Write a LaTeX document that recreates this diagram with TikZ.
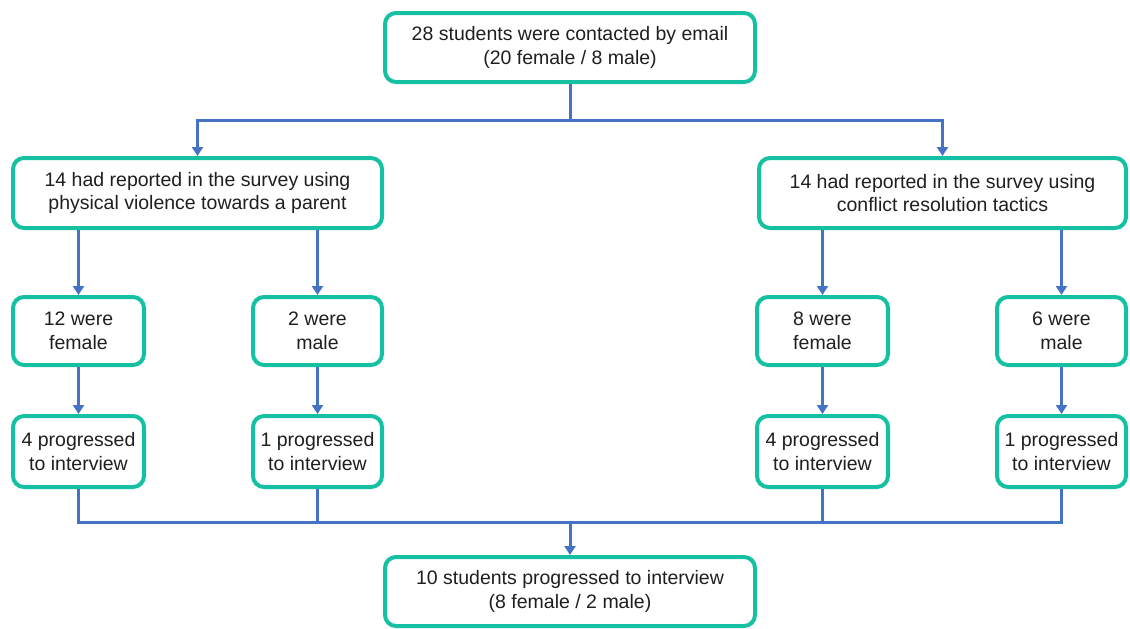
\documentclass[tikz,border=0pt]{standalone}
\usepackage{fontspec}
\setmainfont{Liberation Sans}
\usetikzlibrary{arrows.meta}
\definecolor{tealbox}{RGB}{22,192,163}
\definecolor{linkblue}{RGB}{68,114,196}
\tikzset{
  box/.style={draw=tealbox, line width=4pt, rounded corners=11pt, fill=white,
    align=center, inner sep=0pt, text=black!88,
    font=\fontsize{19.5}{23.5}\selectfont},
  conn/.style={draw=linkblue, line width=3pt},
  arr/.style={conn, -{Triangle[width=11pt,length=9pt]}},
}
\begin{document}
\begin{tikzpicture}[x=1pt,y=-1pt]
\useasboundingbox (0,0) rectangle (1130,629);
\node[box, minimum width=370pt, minimum height=69pt] (top) at (570,47.5)
  {28 students were contacted by email\\(20 female / 8 male)};
\node[box, minimum width=369pt, minimum height=70pt] (L) at (197.5,193)
  {14 had reported in the survey using\\physical violence towards a parent};
\node[box, minimum width=367pt, minimum height=70pt] (R) at (942.5,193)
  {14 had reported in the survey using\\conflict resolution tactics};
\node[box, minimum width=131pt, minimum height=68pt] (LF) at (78.5,331) {12 were\\female};
\node[box, minimum width=129pt, minimum height=68pt] (LM) at (317.5,331) {2 were\\male};
\node[box, minimum width=131pt, minimum height=68pt] (RF) at (822.5,331) {8 were\\female};
\node[box, minimum width=129pt, minimum height=68pt] (RM) at (1061.5,331) {6 were\\male};
\node[box, minimum width=131pt, minimum height=71pt] (LFp) at (78.5,451.5) {4 progressed\\to interview};
\node[box, minimum width=129pt, minimum height=71pt] (LMp) at (317.5,451.5) {1 progressed\\to interview};
\node[box, minimum width=131pt, minimum height=71pt] (RFp) at (822.5,451.5) {4 progressed\\to interview};
\node[box, minimum width=129pt, minimum height=71pt] (RMp) at (1061.5,451.5) {1 progressed\\to interview};
\node[box, minimum width=370pt, minimum height=69pt] (bot) at (570,591.5)
  {10 students progressed to interview\\(8 female / 2 male)};

\coordinate (j1) at (570,120);
\coordinate (j2) at (570,522);
\draw[conn] (top.south) -- (j1);
\draw[arr] (j1) -| (L.north);
\draw[arr] (j1) -| (R.north);
\draw[arr] (L.south -| LF.north) -- (LF.north);
\draw[arr] (L.south -| LM.north) -- (LM.north);
\draw[arr] (R.south -| RF.north) -- (RF.north);
\draw[arr] (R.south -| RM.north) -- (RM.north);
\draw[arr] (LF) -- (LFp);
\draw[arr] (LM) -- (LMp);
\draw[arr] (RF) -- (RFp);
\draw[arr] (RM) -- (RMp);
\draw[conn] (LFp.south) |- (j2);
\draw[conn] (LMp.south) |- (j2);
\draw[conn] (RFp.south) |- (j2);
\draw[conn] (RMp.south) |- (j2);
\draw[arr] (j2) -- (bot.north);
\end{tikzpicture}
\end{document}
